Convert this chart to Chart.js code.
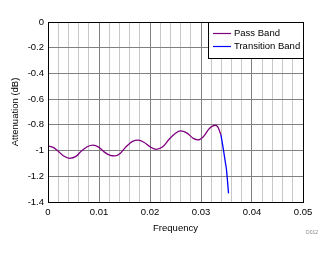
<!DOCTYPE html>
<html>
<head>
<meta charset="utf-8">
<script src="https://cdn.jsdelivr.net/npm/chart.js@4"></script>
<style>
  html, body { margin: 0; padding: 0; background: #fff; }
  #wrap { width: 332px; height: 254px; }
</style>
</head>
<body>
<div id="wrap"><canvas id="attnChart"></canvas></div>
<script>
// pass band
const passFreq = [0, 0.001, 0.002, 0.003, 0.0042, 0.0055, 0.0065, 0.0077, 0.0088, 0.010, 0.011, 0.0122, 0.0131,
    0.0142, 0.0153, 0.0165, 0.0177, 0.0188, 0.020, 0.0212, 0.0225, 0.0238, 0.025, 0.026, 0.0272, 0.0285, 0.0294,
    0.0305, 0.0316, 0.0328, 0.0333, 0.0337, 0.0339];
const passAtten = [-0.964, -0.975, -1.005, -1.040, -1.060, -1.045, -1.005, -0.970, -0.958, -0.975, -1.010, -1.038, -1.042,
    -1.020, -0.970, -0.930, -0.919, -0.935, -0.970, -0.990, -0.970, -0.910, -0.865, -0.847, -0.862, -0.905, -0.917,
    -0.890, -0.830, -0.803, -0.815, -0.855, -0.878];

// transition band
const transFreq = [0.0339, 0.0343, 0.0347, 0.0350, 0.0354];
const transAtten = [-0.878, -0.969, -1.073, -1.150, -1.333];

const seriesNames = ['Pass Band', 'Transition Band'];
const xTicksMajor = [0, 0.01, 0.02, 0.03, 0.04, 0.05];

const font = { family: 'Liberation Sans, Arial, sans-serif', size: 9.5 };

function toPoints(xs, ys) {
    return xs.map((x, i) => ({ x: x, y: ys[i] }));
}

function isMajor(v) {
    return xTicksMajor.some(m => Math.abs(m - v) < 1e-6);
}

// legend box + frame + little figure id
const boxPlugin = {
    id: 'boxPlugin',
    afterDraw(chart) {
        const ctx = chart.ctx;
        const a = chart.chartArea;
        ctx.save();
        ctx.strokeStyle = '#000';
        ctx.lineWidth = 1;
        ctx.strokeRect(Math.round(a.left) + 0.5, Math.round(a.top) + 0.5,
            Math.round(a.right - a.left), Math.round(a.bottom - a.top));

        // legend
        const w = 95, h = 36;
        const lx = Math.round(a.right) - w, ly = Math.round(a.top);
        ctx.fillStyle = '#fff';
        ctx.fillRect(lx, ly, w, h);
        ctx.strokeRect(lx + 0.5, ly + 0.5, w, h);
        ctx.font = font.size + 'px ' + font.family;
        ctx.textBaseline = 'middle';
        chart.data.datasets.forEach((ds, i) => {
            const y = ly + 11 + i * 13;
            ctx.strokeStyle = ds.borderColor;
            ctx.lineWidth = 1.2;
            ctx.beginPath();
            ctx.moveTo(lx + 5, y + 0.5);
            ctx.lineTo(lx + 23, y + 0.5);
            ctx.stroke();
            ctx.fillStyle = '#000';
            ctx.fillText(ds.label, lx + 26, y);
        });

        ctx.font = '5px ' + font.family;
        ctx.fillStyle = '#888';
        ctx.textAlign = 'right';
        ctx.fillText('D012', 318, 233);
        ctx.restore();
    }
};

new Chart(document.getElementById('attnChart'), {
    type: 'line',
    data: {
        datasets: [{
            label: seriesNames[0],
            data: toPoints(passFreq, passAtten),
            borderColor: '#800080',
            borderWidth: 1.3,
            pointRadius: 0,
            tension: 0.4,
            cubicInterpolationMode: 'monotone'
        }, {
            label: seriesNames[1],
            data: toPoints(transFreq, transAtten),
            borderColor: '#0000ff',
            borderWidth: 1.3,
            pointRadius: 0,
            tension: 0.2
        }]
    },
    options: {
        responsive: true,
        maintainAspectRatio: false,
        animation: false,
        layout: { padding: { top: 22, right: 29, left: 0, bottom: 20 } },
        plugins: {
            legend: { display: false },
            tooltip: { enabled: false }
        },
        scales: {
            x: {
                type: 'linear',
                min: 0,
                max: 0.05,
                afterFit: s => { s.height = 32; },
                afterBuildTicks: s => {
                    s.ticks = [];
                    for (let i = 0; i <= 25; i++) s.ticks.push({ value: Math.round(i * 2) / 1000 });
                },
                ticks: {
                    autoSkip: false,
                    maxRotation: 0,
                    padding: 5,
                    color: '#000',
                    font: font,
                    callback: v => isMajor(v) ? String(Math.round(v * 100) / 100) : ''
                },
                grid: {
                    drawTicks: false,
                    color: c => isMajor(c.tick.value) ? '#808080' : '#c8c8c8',
                    lineWidth: 1
                },
                border: { color: '#000' },
                title: {
                    display: true,
                    text: 'Frequency',
                    color: '#000',
                    font: font,
                    padding: { top: 2, bottom: 0 }
                }
            },
            y: {
                min: -1.4,
                max: 0,
                afterFit: s => { s.width = 48; },
                ticks: {
                    stepSize: 0.2,
                    padding: 4,
                    color: '#000',
                    font: font,
                    callback: v => {
                        const r = Math.round(v * 10) / 10;
                        return r === 0 ? '0' : String(r);
                    }
                },
                grid: {
                    drawTicks: false,
                    color: '#808080',
                    lineWidth: 1
                },
                border: { color: '#000' },
                title: {
                    display: true,
                    text: 'Attenuation (dB)',
                    color: '#000',
                    font: font,
                    padding: { top: 10, bottom: 0 }
                }
            }
        }
    },
    plugins: [boxPlugin]
});
</script>
</body>
</html>
